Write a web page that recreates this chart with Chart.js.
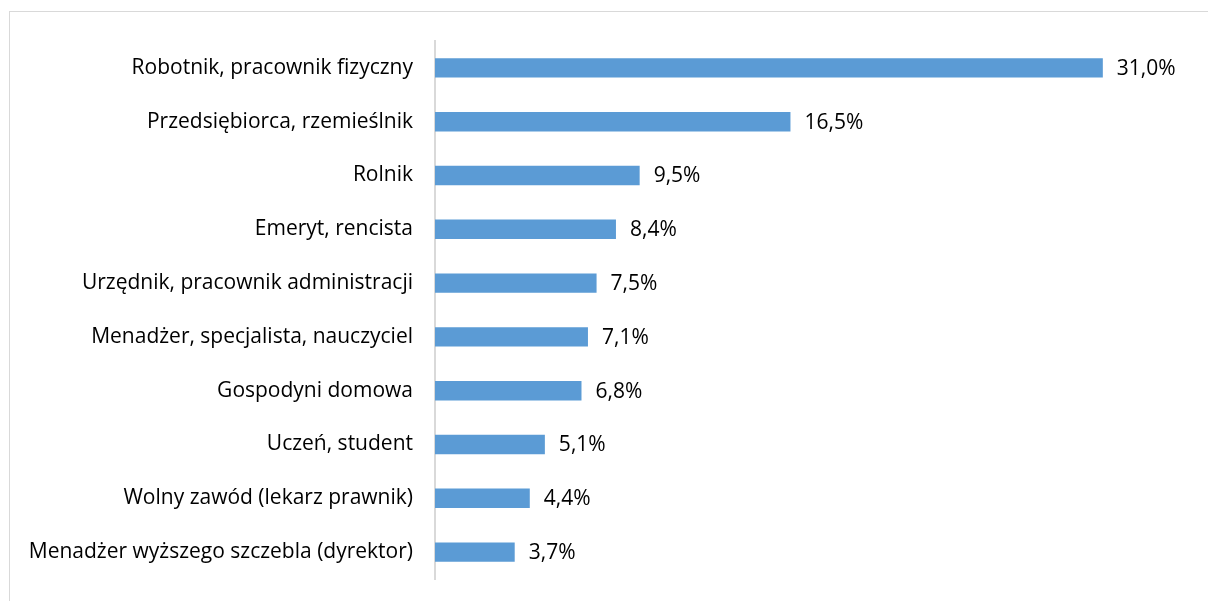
<!DOCTYPE html>
<html>
<head>
<meta charset="utf-8">
<script src="https://cdn.jsdelivr.net/npm/chart.js@4/dist/chart.umd.min.js"></script>
<style>
html,body{margin:0;padding:0;background:#fff;overflow:hidden;}
#frame{position:absolute;left:9px;top:11px;width:1300px;height:700px;border-top:1px solid #d9d9d9;border-left:1px solid #d9d9d9;}
#wrap{position:absolute;left:0;top:0;width:1208px;height:601px;}
</style>
</head>
<body>
<div id="frame"></div>
<div id="wrap"><canvas id="c" width="1208" height="601"></canvas></div>
<script>
const categories = [
  "Robotnik, pracownik fizyczny",
  "Przedsiębiorca, rzemieślnik",
  "Rolnik",
  "Emeryt, rencista",
  "Urzędnik, pracownik administracji",
  "Menadżer, specjalista, nauczyciel",
  "Gospodyni domowa",
  "Uczeń, student",
  "Wolny zawód (lekarz prawnik)",
  "Menadżer wyższego szczebla (dyrektor)"
];
const values = [31.0, 16.5, 9.5, 8.4, 7.5, 7.1, 6.8, 5.1, 4.4, 3.7];
const axisMax = 35;

const FONT = "'Open Sans'";
const FSIZE = 21;

const valueLabels = {
  id: 'valueLabels',
  afterDatasetsDraw(chart) {
    const ctx = chart.ctx;
    const meta = chart.getDatasetMeta(0);
    ctx.save();
    ctx.font = FSIZE + "px " + FONT;
    ctx.fillStyle = "#000";
    ctx.textAlign = "left";
    ctx.textBaseline = "middle";
    meta.data.forEach((bar, i) => {
      const txt = values[i].toFixed(1).replace('.', ',') + '%';
      ctx.fillText(txt, bar.x + 14, bar.y + 1);
    });
    ctx.restore();
  }
};

new Chart(document.getElementById('c'), {
  type: 'bar',
  data: {
    labels: categories,
    datasets: [{
      data: values,
      backgroundColor: '#5b9bd5',
      borderWidth: 0,
      barPercentage: 0.36,
      categoryPercentage: 1.0
    }]
  },
  options: {
    indexAxis: 'y',
    responsive: false,
    animation: false,
    devicePixelRatio: 1,
    layout: { padding: { left: 0, right: 19, top: 41, bottom: 22 } },
    plugins: { legend: { display: false }, tooltip: { enabled: false } },
    scales: {
      x: { display: false, min: 0, max: axisMax },
      y: {
        afterFit(s) { s.width = 435; },
        grid: { display: true, drawOnChartArea: false, drawTicks: true, tickLength: 22, tickColor: 'rgba(0,0,0,0)' },
        border: { display: true, color: '#d9d9d9', width: 2 },
        ticks: { color: '#000', padding: 0, font: { family: "Open Sans", size: FSIZE } }
      }
    }
  },
  plugins: [valueLabels]
});
</script>
</body>
</html>
